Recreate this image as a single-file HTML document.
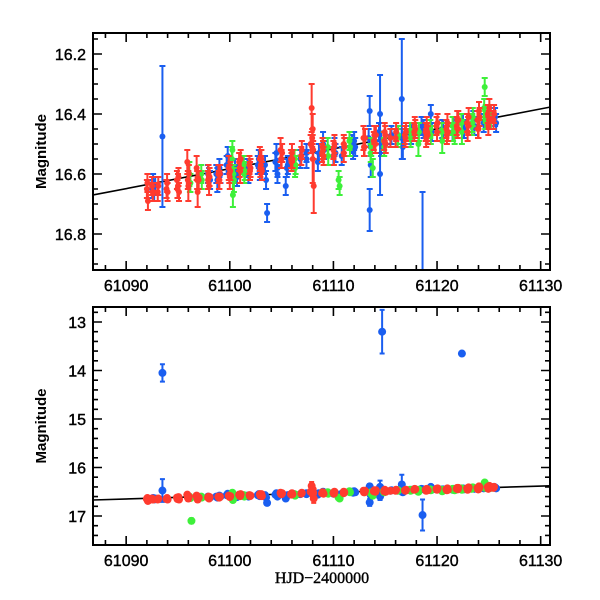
<!DOCTYPE html>
<html><head><meta charset="utf-8"><style>
html,body{margin:0;padding:0;background:#fff;}
svg{display:block;}
text{font-family:"Liberation Sans",sans-serif;fill:#000;}
</style></head><body>
<svg id="chart" width="600" height="600" xmlns="http://www.w3.org/2000/svg"></svg>
<script>
const redT=[61092.0,61092.1,61092.5,61092.6,61093.1,61093.9,61094.0,61094.9,61095.0,61095.1,61095.9,61096.0,61096.8,61096.9,61097.0,61097.9,61098.0,61098.9,61099.0,61099.9,61100.0,61100.9,61101.0,61101.9,61102.0,61102.9,61103.0,61103.1,61104.9,61105.0,61105.9,61106.0,61106.9,61107.8,61107.9,61108.0,61108.1,61108.0,61108.9,61109.0,61110.0,61110.1,61111.0,61111.0,61112.9,61113.0,61113.9,61114.1,61114.9,61115.0,61115.5,61116.0,61116.9,61117.0,61117.8,61117.9,61118.9,61119.0,61119.1,61120.0,61120.9,61121.0,61121.9,61122.0,61122.9,61123.0,61123.9,61124.0,61124.1,61124.9,61125.0,61125.5,
61092.05,61092.55,61093.05,61093.95,61094.95,61095.05,61095.95,61096.05,61096.85,61097.95,61098.05,61098.95,61099.05,61099.95,61100.05,61100.95,61101.05,61101.95,61102.95,61103.05,61104.95,61105.05,61105.95,61106.05,61106.95,61107.95,61108.05,61108.95,61109.05,61110.05,61111.05,61112.95,61113.05,61113.95,61114.05,61114.95,61115.05,61116.05,61116.95,61117.85,61118.95,61119.05,61119.95,61120.95,61121.05,61121.95,61122.95,61123.05,61123.95,61124.05,61124.95,61125.05,61125.45,61122.05,61120.05];
const redM=[16.65,16.69,16.64,16.66,16.64,16.65,16.66,16.62,16.64,16.66,16.56,16.64,16.58,16.66,16.62,16.62,16.64,16.60,16.62,16.58,16.61,16.56,16.59,16.57,16.58,16.55,16.57,16.59,16.52,16.55,16.55,16.53,16.54,16.50,16.38,16.55,16.64,16.45,16.53,16.52,16.52,16.50,16.50,16.53,16.48,16.51,16.49,16.47,16.49,16.47,16.48,16.48,16.47,16.46,16.46,16.45,16.46,16.44,16.47,16.46,16.45,16.43,16.44,16.45,16.43,16.44,16.42,16.45,16.41,16.40,16.42,16.40,
16.63,16.66,16.66,16.63,16.65,16.61,16.62,16.60,16.62,16.60,16.61,16.62,16.60,16.60,16.59,16.58,16.55,16.59,16.58,16.55,16.55,16.53,16.56,16.55,16.52,16.48,16.52,16.51,16.54,16.54,16.51,16.51,16.48,16.47,16.50,16.46,16.50,16.46,16.48,16.44,16.48,16.46,16.44,16.47,16.46,16.42,16.46,16.41,16.45,16.39,16.44,16.38,16.42,16.42,16.43];
const redE=[.03,.03,.03,.03,.03,.03,.03,.03,.04,.03,.04,.05,.04,.05,.03,.03,.03,.03,.03,.04,.04,.03,.04,.03,.03,.04,.03,.03,.04,.03,.03,.03,.03,.03,.08,.08,.09,.05,.03,.03,.03,.03,.03,.03,.04,.03,.03,.03,.03,.03,.03,.03,.03,.03,.03,.03,.03,.03,.03,.03,.03,.03,.03,.03,.03,.03,.03,.03,.03,.03,.03,.03,
.03,.03,.03,.03,.03,.03,.03,.03,.03,.03,.03,.03,.03,.03,.03,.03,.03,.03,.03,.03,.03,.03,.03,.03,.03,.03,.03,.03,.03,.03,.03,.03,.03,.03,.03,.03,.03,.03,.03,.03,.03,.03,.03,.03,.03,.03,.03,.03,.03,.03,.03,.03,.03,.03,.03];
const blueT=[61092.5,61092.8,61093.5,61093.5,61098.0,61098.8,61099.0,61099.8,61100.6,61101.8,61102.8,61103.5,61103.6,61104.5,61104.6,61105.4,61105.6,61107.4,61108.5,61109.0,61110.0,61110.1,61110.8,61111.9,61112.0,61113.5,61113.5,61113.6,61114.5,61114.5,61114.6,61114.7,61115.6,61116.6,61116.7,61117.6,61118.6,61118.7,61119.4,61120.6,61121.6,61122.4,61122.5,61123.6,61124.8,61125.6,
61092.6,61092.7,61097.9,61098.1,61098.7,61099.1,61099.7,61100.5,61100.7,61101.7,61102.7,61102.9,61103.4,61104.4,61104.6,61105.5,61106.8,61107.4,61108.6,61109.1,61110.2,61111.8,61112.1,61113.4,61113.6,61114.4,61115.5,61116.6,61117.5,61118.5,61119.5,61120.5,61121.5,61122.6,61123.5,61124.5,61125.5,61125.7];
const blueM=[16.65,16.64,16.475,14.05,16.61,16.62,16.58,16.54,16.60,16.60,16.55,16.62,16.73,16.53,16.60,16.64,16.57,16.55,16.56,16.50,16.54,16.51,16.54,16.52,16.49,16.39,16.72,16.57,16.40,16.60,16.50,13.20,16.47,16.35,16.51,16.46,16.98,16.45,16.40,16.45,16.44,13.65,16.43,16.44,16.42,16.41,
16.63,16.66,16.60,16.62,16.60,16.60,16.57,16.58,16.61,16.58,16.57,16.59,16.57,16.56,16.58,16.58,16.55,16.53,16.53,16.52,16.53,16.50,16.51,16.48,16.51,16.46,16.48,16.48,16.47,16.44,16.46,16.45,16.46,16.45,16.42,16.43,16.40,16.43];
const blueE=[.03,.03,.235,.18,.03,.04,.03,.03,.03,.03,.03,.03,.03,.03,.03,.03,.03,.03,.03,.04,.03,.03,.03,.03,.03,.05,.07,.04,.13,.07,.04,.45,.03,.2,.04,.03,.32,.03,.03,.03,.03,.04,.03,.03,.03,.03,
.03,.03,.03,.03,.03,.03,.03,.03,.03,.03,.03,.03,.03,.03,.03,.03,.03,.03,.03,.03,.03,.03,.03,.03,.03,.03,.03,.03,.03,.03,.03,.03,.03,.03,.03,.03,.03,.03];
const greenT=[61096.1,61096.2,61096.3,61097.3,61100.2,61100.3,61100.4,61101.4,61106.3,61109.5,61110.5,61110.6,61111.6,61113.6,61113.8,61114.9,61116.2,61117.4,61118.2,61119.4,61120.5,61121.5,61121.7,61122.4,61123.4,61124.6,61124.7,61125.2,
61096.15,61097.25,61100.25,61100.35,61101.35,61101.45,61106.25,61106.35,61109.45,61111.55,61113.65,61114.85,61116.25,61117.45,61118.25,61119.35,61120.45,61121.55,61122.35,61123.35,61123.45,61124.55,61124.65,61125.15];
const greenM=[16.60,16.63,17.10,16.62,16.55,16.67,16.62,16.60,16.58,16.54,16.62,16.64,16.51,16.53,16.58,16.51,16.48,16.46,16.50,16.47,16.49,16.44,16.47,16.46,16.43,16.31,16.40,16.42,
16.63,16.60,16.52,16.60,16.57,16.59,16.55,16.57,16.51,16.49,16.51,16.49,16.47,16.48,16.46,16.45,16.46,16.46,16.43,16.44,16.41,16.38,16.42,16.40];
const greenE=[.04,.03,.05,.03,.04,.04,.04,.03,.03,.03,.03,.03,.03,.03,.03,.03,.03,.03,.04,.03,.04,.03,.03,.04,.03,.03,.03,.03,
.03,.03,.03,.03,.03,.03,.03,.03,.03,.03,.03,.03,.03,.03,.03,.03,.03,.03,.03,.03,.03,.03,.03,.03];
const fitT=[61086.8,61130.9];
const fitM=[16.67,16.377];
const xTicks=[61090,61100,61110,61120,61130];
const topYTicks=[16.2,16.4,16.6,16.8];
const botYTicks=[13,14,15,16,17];

const NS="http://www.w3.org/2000/svg";
const svg=document.getElementById('chart');
function mk(tag,attrs,parent){const e=document.createElementNS(NS,tag);for(const k in attrs)e.setAttribute(k,attrs[k]);(parent||svg).appendChild(e);return e;}
const X0=93,X1=550;
const tMin=61086.8,tMax=61130.9;
function xs(t){return X0+(t-tMin)/(tMax-tMin)*(X1-X0);}

const panels=[
 {name:'top',y0:33,y1:270,mTop:16.2,pTop:54,ppm:300,ticks:topYTicks,minor:0.05,fmt:v=>v.toFixed(1),r:3,cap:3,sw:2},
 {name:'bottom',y0:307,y1:545,mTop:13,pTop:322,ppm:48.5,ticks:botYTicks,minor:0.2,fmt:v=>String(v),r:4,cap:2.5,sw:2}
];
const series=[['blue','#1a5ef0',blueT,blueM,blueE],['green','#3ef03a',greenT,greenM,greenE],['red','#ff3b2f',redT,redM,redE]];

panels.forEach((p,pi)=>{
 const ys=m=>p.pTop+(m-p.mTop)*p.ppm;
 const g=mk('g',{});
 
 
 const cid='clip'+pi;
 const cp=mk('clipPath',{id:cid},g);mk('rect',{x:X0,y:p.y0,width:X1-X0,height:p.y1-p.y0},cp);
 const plot=mk('g',{'clip-path':'url(#'+cid+')'},g);
 
 
 const fl=mk('line',{x1:xs(fitT[0]),y1:ys(fitM[0]),x2:xs(fitT[1]),y2:ys(fitM[1]),stroke:'#000','stroke-width':1.6},plot);
 
 
 series.forEach(([nm,col,T,M,E])=>{
  const sg=mk('g',{fill:col,stroke:col},plot);
  
  
  for(let i=0;i<T.length;i++){
   const x=xs(T[i]),y=ys(M[i]),ya=ys(M[i]-E[i]),yb=ys(M[i]+E[i]);
   const c0=p.cap;
   const eb=mk('path',{d:`M${x},${ya}V${yb}M${x-c0},${ya}H${x+c0}M${x-c0},${yb}H${x+c0}`,'stroke-width':p.sw,fill:'none'},sg);
   
   
   const c=mk('circle',{cx:x,cy:y,r:p.r,stroke:'none'},sg);
   
   
  }
 });
 const fr=mk('rect',{x:X0,y:p.y0,width:X1-X0,height:p.y1-p.y0,fill:'none',stroke:'#000','stroke-width':2},g);
 
 
 let d='';
 for(let t=61088;t<=61130;t+=2){const x=xs(t);const L=(t%10===0)?9:5;d+=`M${x},${p.y1}v${-L}M${x},${p.y0}v${L}`;}
 const step=p.ticks[1]-p.ticks[0];
 const nMin=Math.ceil(((p.y0-p.pTop)/p.ppm+p.mTop)/p.minor-1e-6);
 for(let k=nMin;;k++){const m=k*p.minor;const y=ys(m);if(y>p.y1)break;const major=Math.abs(m/step-Math.round(m/step))<1e-6;const L=major?9:5;d+=`M${X0},${y}h${L}M${X1},${y}h${-L}`;}
 const tk=mk('path',{d:d,stroke:'#000','stroke-width':1.6,fill:'none'},g);
 
 
 xTicks.forEach(t=>{const tx=mk('text',{x:xs(t),y:p.y1+21,'text-anchor':'middle','font-size':16,stroke:'#000','stroke-width':0.4},g);tx.textContent=t;
  
  });
 p.ticks.forEach(m=>{const tx=mk('text',{x:86,y:ys(m)+6,'text-anchor':'end','font-size':16,stroke:'#000','stroke-width':0.4},g);tx.textContent=p.fmt(m);
  
  });
 const cy=(p.y0+p.y1)/2;
 const yl=mk('text',{x:0,y:0,transform:`translate(46,${cy}) rotate(-90)`,'text-anchor':'middle','font-size':15,'font-weight':'bold'},g);
 yl.textContent='Magnitude';
 
 
});
const xl=mk('text',{x:322,y:583,'text-anchor':'middle','font-size':16,stroke:'#000','stroke-width':0.4,style:'font-family:"Liberation Serif",serif'});
xl.textContent='HJD−2400000';


</script>
</body></html>
